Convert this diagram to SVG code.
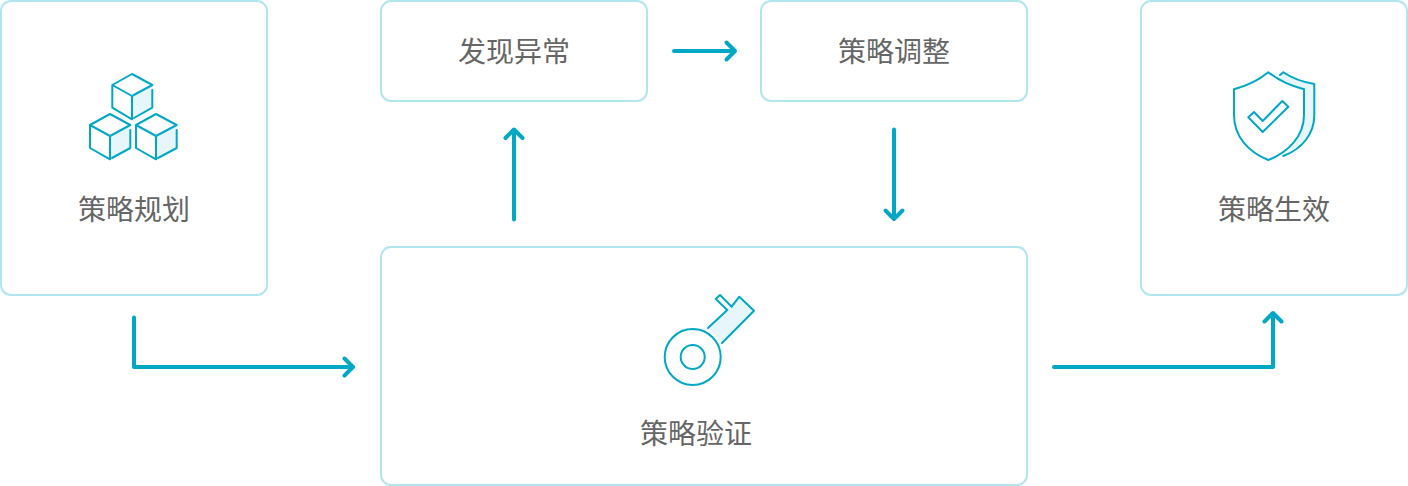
<svg xmlns="http://www.w3.org/2000/svg" width="1408" height="486" viewBox="0 0 1408 486">
<style>
.box{fill:#fff;stroke:#b2e6ee;stroke-width:2}
.t{font-family:"Noto Sans CJK SC","Noto Sans",sans-serif;font-size:28px;fill:#666;text-anchor:middle;font-weight:400}
.i{fill:none;stroke:#00a8c6;stroke-width:2;stroke-linejoin:round;stroke-linecap:round}
.f{fill:#e6f6fa;stroke:none}
.c{fill:none;stroke:#00a8c6;stroke-width:4;stroke-linejoin:round;stroke-linecap:round}
</style>
<g id="connectors">
<path class="c" d="M134 317.500V367H353M344.500 358.500l8.500 8.500-8.500 8.500"/>
<path class="c" d="M514 219.500V129.500M505.500 138l8.500-8.500 8.500 8.500"/>
<path class="c" d="M674 51H735M726.500 42.500l8.500 8.500-8.500 8.500"/>
<path class="c" d="M894 129.500V219M885.500 210.500l8.500 8.500 8.500-8.500"/>
<path class="c" d="M1054 367H1273V313M1264.500 321.500l8.500-8.500 8.500 8.500"/>
</g>
<g id="node-plan">
<rect class="box" x="1" y="1" width="266" height="294" rx="10"/>
<path class="f" d="M132 96L152.300 85V107.700L132 119.300ZM110 136L130.300 125V148L110 159.300ZM156 136L176.700 125V148L156 159.300Z"/>
<path class="i" d="M132 74L152.300 85L132 96L112.300 85ZM112.300 85V107.700L132 119.300V96M152.300 90V107.700L134 118"/>
<path class="i" d="M110 114L130.300 125L110 136L90 125ZM90 125V148L110 159.300V136M130.300 130V148L112 158"/>
<path class="i" d="M156 114L176.700 125L156 136L136 125ZM136 125V148L156 159.300V136M176.700 130V148L158 158"/>
<text class="t" x="134" y="220">策略规划</text>
</g>
<g id="node-detect">
<rect class="box" x="381" y="1" width="266" height="100" rx="10"/>
<text class="t" x="514" y="62">发现异常</text>
</g>
<g id="node-adjust">
<rect class="box" x="761" y="1" width="266" height="100" rx="10"/>
<text class="t" x="894" y="62">策略调整</text>
</g>
<g id="node-verify">
<rect class="box" x="381" y="247" width="646" height="238" rx="10"/>
<path class="f" d="M707.300 329L739.300 296.700L754 310.700L721.300 343.300Q716 334 707.300 329Z"/>
<path class="i" d="M708 328L727.300 310L715.700 299L720 295L731.700 306.700L739.300 296.700L754 310.700L722 343"/>
<circle class="i" cx="692.700" cy="357" r="28"/>
<circle class="i" cx="692.700" cy="357" r="12"/>
<text class="t" x="696" y="444">策略验证</text>
</g>
<g id="node-effect">
<rect class="box" x="1141" y="1" width="266" height="294" rx="10"/>
<path class="f" d="M1283.300 72.300Q1296 81 1314.300 84V115C1314.300 134 1302 149 1283.300 156C1298 146 1304 130 1304 115V89.300Q1286 85 1276 77Z"/>
<path class="i" d="M1283.300 72.300L1280 75M1283.300 72.300Q1296 81 1314.300 84V115C1314.300 134 1302 149 1283.300 156"/>
<path class="i" d="M1268.300 72.300Q1254 84 1234 89.300V115C1234 136 1248 152 1268.300 160C1288.600 152 1304 136 1304 115V89.300Q1283 84 1268.300 72.300Z"/>
<path class="i" d="M1248.300 117.300L1254 112L1262.700 121L1282.300 101L1288.300 106.700L1262.700 132Z"/>
<text class="t" x="1274" y="220">策略生效</text>
</g>
</svg>
